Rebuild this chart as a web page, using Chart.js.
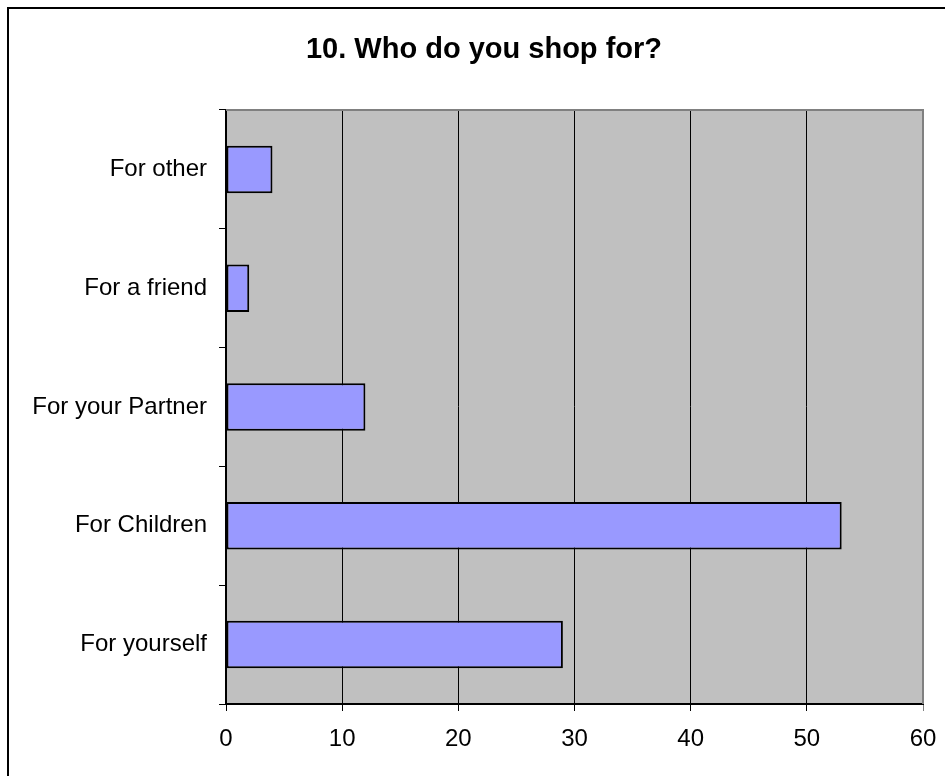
<!DOCTYPE html>
<html>
<head>
<meta charset="utf-8">
<title>10. Who do you shop for?</title>
<script src="https://cdn.jsdelivr.net/npm/chart.js@4"></script>
<style>
  html, body { margin: 0; padding: 0; background: #fff; overflow: hidden; }
  #wrap { position: relative; width: 945px; height: 776px; }
  #shop-chart { display: block; }
</style>
</head>
<body>
<div id="wrap">
  <canvas id="shop-chart" width="945" height="776"></canvas>
</div>
<script>
// answers, listed bottom to top as on the axis
const categories = ['For yourself', 'For Children', 'For your Partner', 'For a friend', 'For other'];
const responses = [29, 53, 12, 2, 4];
const xTicks = [0, 10, 20, 30, 40, 50, 60];
const chartTitle = '10. Who do you shop for?';

const FONT = "'Liberation Sans', Arial, sans-serif";

// grey plot background, grey top/right edge, title and the outer frame
const plotDecor = {
  id: 'plotDecor',
  beforeDraw(chart) {
    const { ctx, chartArea: a } = chart;
    ctx.save();
    ctx.fillStyle = '#c0c0c0';
    ctx.fillRect(a.left, a.top, a.right - a.left, a.bottom - a.top);
    ctx.restore();
  },
  afterDraw(chart) {
    const { ctx, chartArea: a } = chart;
    ctx.save();
    ctx.strokeStyle = '#808080';
    ctx.lineWidth = 2;
    ctx.beginPath();
    ctx.moveTo(a.left, a.top);
    ctx.lineTo(a.right, a.top);
    ctx.lineTo(a.right, a.bottom);
    ctx.stroke();

    // title, centred on the frame rather than the plot
    ctx.fillStyle = '#000';
    ctx.font = 'bold 29px ' + FONT;
    ctx.textAlign = 'center';
    ctx.textBaseline = 'middle';
    ctx.fillText(chartTitle, 484, 50);

    // frame round the whole chart
    ctx.strokeStyle = '#000';
    ctx.lineWidth = 2;
    ctx.beginPath();
    ctx.moveTo(8, chart.height + 10);
    ctx.lineTo(8, 8);
    ctx.lineTo(chart.width + 10, 8);
    ctx.stroke();
    ctx.restore();
  }
};

const ctx = document.getElementById('shop-chart').getContext('2d');

const shopChart = new Chart(ctx, {
  type: 'bar',
  data: {
    labels: categories,
    datasets: [{
      data: responses,
      backgroundColor: '#9999ff',
      borderColor: '#000',
      borderWidth: 2,
      borderSkipped: false,
      categoryPercentage: 1,
      barPercentage: 0.4
    }]
  },
  options: {
    indexAxis: 'y',
    responsive: false,
    animation: false,
    devicePixelRatio: 1,
    layout: { padding: { left: 0, right: 22, top: 110, bottom: 0 } },
    plugins: {
      legend: { display: false },
      tooltip: { enabled: false },
      title: { display: false }
    },
    scales: {
      x: {
        type: 'linear',
        min: xTicks[0],
        max: xTicks[xTicks.length - 1],
        afterBuildTicks(scale) {
          scale.ticks = xTicks.map(v => ({ value: v }));
        },
        afterFit(scale) {
          scale.height = 72;
          scale.paddingLeft = 0;
          scale.paddingRight = 0;
        },
        grid: {
          color: c => (c.tick && c.tick.value === 60 ? '#808080' : '#000'),
          lineWidth: 1,
          tickLength: 7,
          drawTicks: true
        },
        border: { display: true, color: '#000', width: 2 },
        ticks: {
          color: '#000',
          padding: 14,
          font: { family: FONT, size: 24 }
        }
      },
      y: {
        type: 'category',
        reverse: true,
        afterFit(scale) { scale.width = 226; },
        grid: {
          offset: true,
          drawOnChartArea: false,
          drawTicks: true,
          tickLength: 7,
          color: '#000'
        },
        border: { display: true, color: '#000', width: 2 },
        ticks: {
          color: '#000',
          padding: 12,
          font: { family: FONT, size: 24 }
        }
      }
    }
  },
  plugins: [plotDecor]
});
</script>
</body>
</html>
